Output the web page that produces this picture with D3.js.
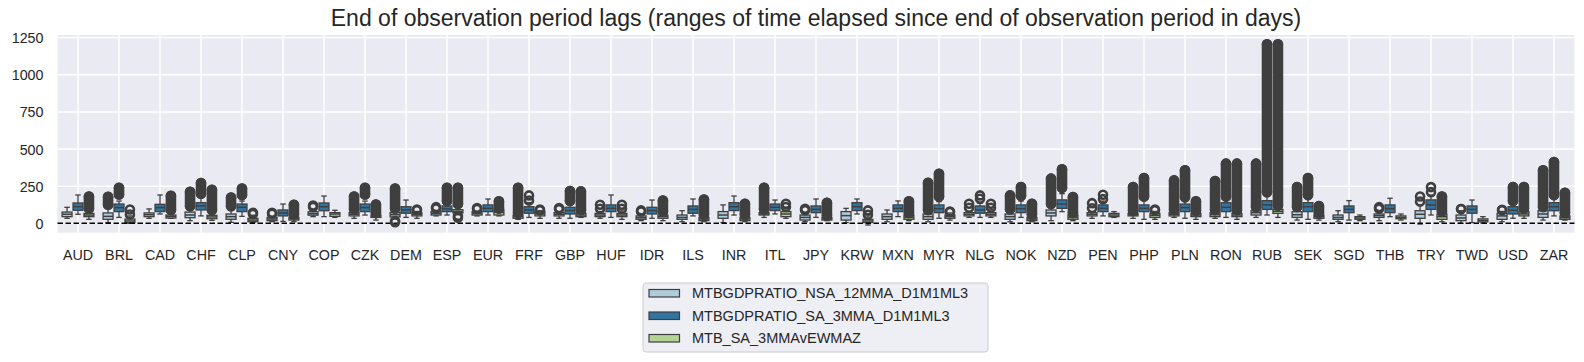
<!DOCTYPE html>
<html>
<head>
<meta charset="utf-8">
<script src="https://cdn.jsdelivr.net/npm/d3@7"></script>
<style>
  body { margin: 0; background: #fff; }
  svg text { font-family: "Liberation Sans", Arial, sans-serif; fill: #262626; }
</style>
</head>
<body>
<div id="chart"></div>
<script>
// categories and series
const categories = ["AUD","BRL","CAD","CHF","CLP","CNY","COP","CZK","DEM","ESP","EUR","FRF","GBP","HUF","IDR","ILS","INR","ITL","JPY","KRW","MXN","MYR","NLG","NOK","NZD","PEN","PHP","PLN","RON","RUB","SEK","SGD","THB","TRY","TWD","USD","ZAR"]
const seriesNames = ["MTBGDPRATIO_NSA_12MMA_D1M1ML3", "MTBGDPRATIO_SA_3MMA_D1M1ML3", "MTB_SA_3MMAvEWMAZ"]
const seriesColors = ["#aeccdb", "#3274a1", "#b3d495"]
const yTicks = [0, 250, 500, 750, 1000, 1250]

// box stats per category: [whisker low, q1, median, q3, whisker high]
const statsNSA = [[34,45,61,76,108],[5,27,47,70,110],[34,45,58,70,97],[18,38,56,76,105],[7,27,45,63,90],[11,18,29,40,45],[45,55,65,78,88],[34,50,61,72,90],[30,43,58,72,95],[50,56,67,79,85],[50,56,67,79,82],[27,34,45,56,68],[34,50,61,72,78],[34,45,56,67,80],[18,27,38,50,60],[11,27,40,56,85],[5,34,56,79,124],[40,56,63,72,90],[11,22,40,56,70],[5,22,52,79,101],[11,27,45,63,90],[11,27,45,63,85],[40,50,61,72,80],[11,27,45,63,90],[18,50,70,90,125],[34,50,61,72,80],[34,50,58,67,80],[40,50,61,72,85],[34,45,58,72,85],[40,56,72,85,105],[22,40,58,79,105],[11,27,40,56,85],[18,40,52,63,80],[-5,34,61,85,120],[0,18,36,56,85],[11,27,50,67,80],[22,40,63,85,105]]
const statsSA = [[61,88,112,137,191],[40,79,106,130,150],[63,79,106,128,191],[50,90,117,139,175],[47,79,108,130,150],[13,50,70,90,130],[45,85,112,137,184],[56,79,106,130,150],[40,68,90,112,157],[56,79,97,117,145],[56,79,101,124,164],[40,68,90,112,140],[34,63,86,108,140],[40,79,101,124,191],[34,63,86,108,157],[50,68,94,117,164],[56,86,112,139,184],[63,86,108,130,157],[40,72,94,117,164],[63,86,112,139,164],[45,79,101,124,151],[34,72,99,124,146],[40,68,90,117,135],[40,72,99,124,150],[79,101,130,158,200],[50,79,101,124,150],[27,79,101,124,160],[34,79,106,130,160],[40,79,108,139,165],[56,94,124,153,200],[27,79,112,139,170],[22,72,94,117,153],[45,72,99,124,169],[56,94,124,158,190],[5,68,94,117,157],[34,63,88,112,140],[50,85,112,139,180]]
const statsEWMAZ = [[27,45,56,67,95],[0,5,16,29,50],[34,36,47,56,85],[20,31,43,54,85],[5,11,22,34,55],[11,22,31,40,55],[40,47,63,72,88],[22,40,50,56,65],[34,50,61,72,80],[58,70,80,92,120],[50,56,74,90,95],[34,50,63,79,85],[40,45,56,68,85],[27,45,56,67,90],[18,34,45,56,75],[11,18,29,40,55],[11,18,29,40,55],[34,45,63,79,100],[18,22,31,40,50],[-11,5,16,27,50],[18,27,40,56,65],[22,34,45,56,70],[40,50,61,72,95],[11,18,29,40,55],[18,27,40,56,65],[40,45,56,67,79],[27,40,54,67,80],[27,45,56,67,80],[27,45,56,67,85],[40,67,81,94,115],[22,34,45,56,65],[18,27,36,45,56],[22,31,40,50,63],[11,27,45,63,75],[2,10,20,30,45],[34,50,63,79,95],[22,27,38,50,65]]

// outlier spans per category: [lowest, highest]
const fliersNSA = [[],[[125,179]],[],[[115,213]],[[115,174]],[[65,71]],[[110,120]],[[95,181]],[[100,235],[8,15]],[[100,109]],[[97,103]],[[72,240]],[[96,103]],[[98,125]],[[80,87]],[],[],[[95,240]],[[88,98]],[],[],[[90,273]],[[105,132]],[[95,188]],[[130,301]],[[102,136]],[[85,244]],[[90,289]],[[90,285]],[[110,402]],[[110,244]],[],[[98,109]],[[147,181]],[[97,97]],[[88,92]],[[110,357]]]
const fliersSA = [[],[[194,240]],[],[[200,271]],[[190,235]],[],[],[[194,240]],[],[[150,240]],[],[[154,188]],[[150,218]],[],[],[],[],[],[],[],[],[[180,334]],[[166,188]],[[185,244]],[[240,364]],[[163,193]],[[180,305]],[[175,357]],[[180,402]],[[210,1206]],[[190,305]],[],[],[[210,244]],[],[[150,244]],[[190,413]]]
const fliersEWMAZ = [[[100,181]],[[60,93]],[[90,186]],[[90,226]],[[63,71]],[[60,125]],[],[[70,127]],[[88,93]],[[130,240],[38,50]],[[100,148]],[[88,93]],[[90,215]],[[98,125]],[[80,154]],[[60,161]],[[60,132]],[[110,132]],[[55,138]],[[58,87]],[[70,148]],[[76,80]],[[105,132]],[[60,132]],[[70,177]],[],[[88,93]],[[85,148]],[[90,402]],[[120,1206]],[[70,116]],[],[],[[80,181]],[],[[100,244]],[[70,206]]]

const allStats = [statsNSA, statsSA, statsEWMAZ]
const allFliers = [fliersNSA, fliersSA, fliersEWMAZ]
const lineColor = "#3f3f3f"

// chart dimensions
const margin = {top: 35, right: 9.5, bottom: 129.3, left: 57.5}
const width = 1584 - margin.left - margin.right
const height = 362 - margin.top - margin.bottom

const root = d3.select("#chart").append("svg")
  .attr("width", 1584)
  .attr("height", 362)
const svg = root.append("g")
  .attr("transform", "translate(" + margin.left + "," + margin.top + ")")

// scales
const x = d3.scaleBand().domain(categories).range([0, width]).padding(0)
const xSub = d3.scaleBand().domain([0, 1, 2]).range([0.1 * x.bandwidth(), 0.9 * x.bandwidth()]).padding(0)
const y = d3.scaleLinear().domain([-63, 1268]).range([height, 0])

// background and grid
svg.append("rect").attr("width", width).attr("height", height).style("fill", "#eaeaf2")
svg.selectAll("line.hgrid").data(yTicks).enter().append("line")
  .attr("x1", 0).attr("x2", width)
  .attr("y1", d => y(d)).attr("y2", d => y(d))
  .style("stroke", "#fff").style("stroke-width", 1.4)
svg.selectAll("line.vgrid").data(categories).enter().append("line")
  .attr("x1", d => x(d) + x.bandwidth() / 2).attr("x2", d => x(d) + x.bandwidth() / 2)
  .attr("y1", 0).attr("y2", height)
  .style("stroke", "#fff").style("stroke-width", 1.4)

// axes
const yAxis = d3.axisLeft(y).tickValues(yTicks).tickFormat(d3.format("d")).tickSize(0).tickPadding(14)
svg.append("g").call(yAxis)
  .call(g => g.select(".domain").remove())
  .selectAll("text").style("font-size", "14.3px").attr("dy", "0.35em")
const xAxis = d3.axisBottom(x).tickSize(0).tickPadding(17)
svg.append("g").attr("transform", "translate(0," + height + ")").call(xAxis)
  .call(g => g.select(".domain").remove())
  .selectAll("text").style("font-size", "14.3px")

// boxes
const boxes = []
allStats.forEach((stats, s) => {
  stats.forEach((d, i) => boxes.push({cat: categories[i], s: s, st: d, fl: allFliers[s][i]}))
})
const g = svg.selectAll(".box").data(boxes).enter().append("g").attr("class", "box")
  .attr("transform", d => "translate(" + (x(d.cat) + xSub(d.s)) + ",0)")
const bw = xSub.bandwidth()
g.append("line").attr("x1", bw / 2).attr("x2", bw / 2)
  .attr("y1", d => y(d.st[0])).attr("y2", d => y(d.st[1]))
  .style("stroke", lineColor).style("stroke-width", 1.3)
g.append("line").attr("x1", bw / 2).attr("x2", bw / 2)
  .attr("y1", d => y(d.st[3])).attr("y2", d => y(d.st[4]))
  .style("stroke", lineColor).style("stroke-width", 1.3)
g.append("line").attr("x1", bw / 4).attr("x2", bw * 3 / 4)
  .attr("y1", d => y(d.st[0])).attr("y2", d => y(d.st[0]))
  .style("stroke", lineColor).style("stroke-width", 1.3)
g.append("line").attr("x1", bw / 4).attr("x2", bw * 3 / 4)
  .attr("y1", d => y(d.st[4])).attr("y2", d => y(d.st[4]))
  .style("stroke", lineColor).style("stroke-width", 1.3)
g.append("rect").attr("x", 0.5).attr("width", bw - 1)
  .attr("y", d => y(d.st[3])).attr("height", d => y(d.st[1]) - y(d.st[3]))
  .style("fill", d => seriesColors[d.s]).style("stroke", lineColor).style("stroke-width", 1.3)
g.append("line").attr("x1", 0.5).attr("x2", bw - 0.5)
  .attr("y1", d => y(d.st[2])).attr("y2", d => y(d.st[2]))
  .style("stroke", lineColor).style("stroke-width", 1.5)

// zero line
svg.append("line").attr("x1", 0).attr("x2", width).attr("y1", y(0)).attr("y2", y(0))
  .style("stroke", "#000").style("stroke-width", 1.5).style("stroke-dasharray", "5.5 2.5")

// outliers: thick rings at the span ends, filled between when the span is dense
const r = 4
const fl = []
boxes.forEach(b => b.fl.forEach(f => fl.push({cat: b.cat, s: b.s, lo: f[0], hi: f[1]})))
const fg = svg.selectAll(".flier").data(fl).enter().append("g")
  .attr("transform", d => "translate(" + (x(d.cat) + xSub(d.s) + bw / 2) + ",0)")
fg.filter(d => y(d.lo) - y(d.hi) > 6).append("rect")
  .attr("x", -r).attr("width", 2 * r).attr("rx", r)
  .attr("y", d => y(d.hi) - r).attr("height", d => y(d.lo) - y(d.hi) + 2 * r)
  .style("fill", lineColor).style("stroke", lineColor).style("stroke-width", 2.6)
fg.append("circle").attr("r", r).attr("cy", d => y(d.hi))
  .style("fill", "none").style("stroke", lineColor).style("stroke-width", 2.6)
fg.append("circle").attr("r", r).attr("cy", d => y(d.lo))
  .style("fill", "none").style("stroke", lineColor).style("stroke-width", 2.6)

// title
svg.append("text").attr("x", width / 2).attr("y", -9)
  .style("text-anchor", "middle").style("font-size", "23px")
  .text("End of observation period lags (ranges of time elapsed since end of observation period in days)")

// legend
const leg = root.append("g").attr("transform", "translate(643,283)")
leg.append("rect").attr("width", 345).attr("height", 69).attr("rx", 3)
  .style("fill", "#eeeef5").style("stroke", "#cccccc").style("stroke-width", 1)
seriesNames.forEach((name, i) => {
  leg.append("rect").attr("x", 6).attr("y", 6.5 + i * 22.5).attr("width", 30.5).attr("height", 7.5)
    .style("fill", seriesColors[i]).style("stroke", lineColor).style("stroke-width", 1.2)
  leg.append("text").attr("x", 49).attr("y", 15 + i * 22.5)
    .style("font-size", "14.5px").text(name)
})
</script>
</body>
</html>
